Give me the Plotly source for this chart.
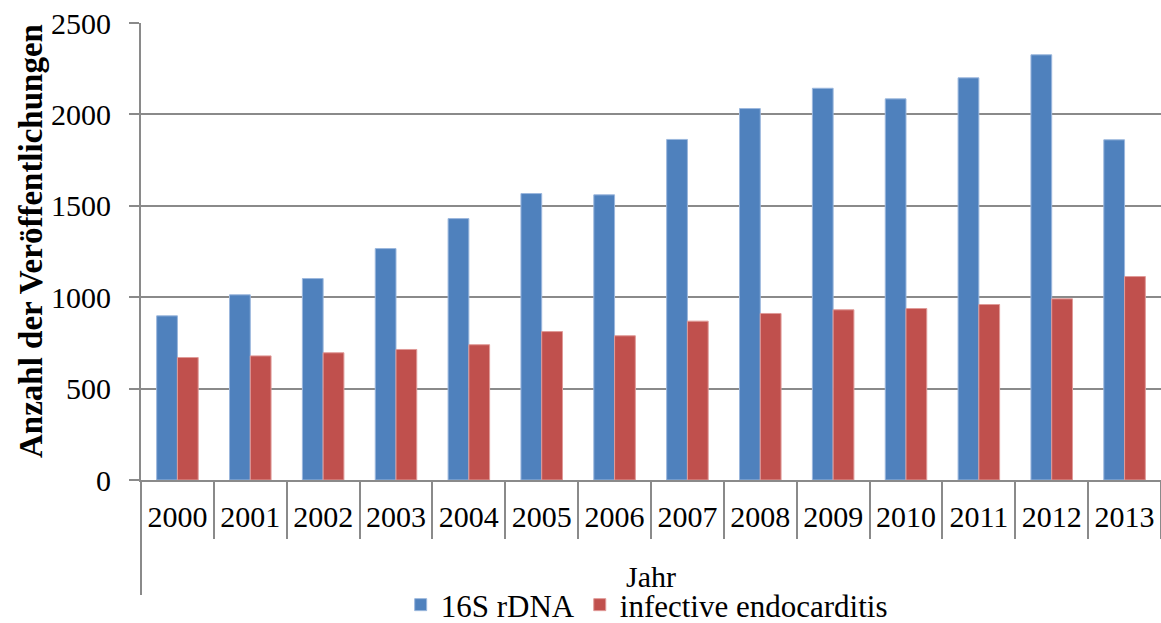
import plotly.graph_objects as go

years = ["2000", "2001", "2002", "2003", "2004", "2005", "2006",
         "2007", "2008", "2009", "2010", "2011", "2012", "2013"]
rdna16s = [898, 1013, 1102, 1266, 1430, 1567, 1560,
           1863, 2032, 2143, 2085, 2200, 2326, 1861]
endocarditis = [670, 679, 696, 714, 740, 812, 789,
                869, 911, 931, 938, 960, 991, 1113]
y_ticks = [0, 500, 1000, 1500, 2000, 2500]

FONT = "Liberation Serif, Times New Roman, serif"
GRID = "#8a8a8a"

fig = go.Figure()
fig.add_trace(go.Bar(name="16S rDNA", x=years, y=rdna16s,
                     marker=dict(color="#4F81BD", line=dict(color="#9bb7dd", width=1))))
fig.add_trace(go.Bar(name="infective endocarditis", x=years, y=endocarditis,
                     marker=dict(color="#C0504D", line=dict(color="#e09a98", width=1))))

fig.update_layout(
    width=1161, height=623,
    margin=dict(l=141, r=0, t=23, b=143),
    paper_bgcolor="white", plot_bgcolor="white",
    barmode="group", bargap=0.43, bargroupgap=0,
    font=dict(family=FONT, size=30, color="black"),
    showlegend=True,
    legend=dict(orientation="h", xref="container", yref="container",
                x=0.557, xanchor="center", y=(623 - 605) / 623, yanchor="middle",
                font=dict(family=FONT, size=31, color="black"),
                bgcolor="rgba(0,0,0,0)", itemwidth=30, tracegroupgap=0),
    xaxis=dict(type="category", showgrid=False, showline=True, linecolor=GRID, linewidth=2,
               ticks="outside", tickson="boundaries", ticklen=57, tickcolor=GRID, tickwidth=2,
               ticklabelstandoff=9,
               tickfont=dict(family=FONT, size=30, color="black")),
    yaxis=dict(range=[0, 2500], tickvals=y_ticks, showgrid=True, gridcolor=GRID, gridwidth=2,
               showline=True, linecolor=GRID, linewidth=2, ticks="outside", ticklen=10,
               tickcolor=GRID, tickwidth=2, zeroline=False, ticklabelstandoff=12,
               tickfont=dict(family=FONT, size=30, color="black")),
    shapes=[dict(type="line", xref="paper", yref="paper", x0=0, x1=0, y0=0, y1=-(595 - 480) / 457,
                 line=dict(color=GRID, width=2))],
    annotations=[
        dict(text="Jahr", xref="paper", yref="paper", x=0.5, y=(480 - 576) / 457,
             xanchor="center", yanchor="middle", showarrow=False,
             font=dict(family=FONT, size=30, color="black")),
        dict(text="<b>Anzahl der Veröffentlichungen</b>", xref="paper", yref="paper",
             x=(31 - 141) / 1020, y=(480 - 241) / 457, xanchor="center", yanchor="middle",
             textangle=-90, showarrow=False,
             font=dict(family=FONT, size=33, color="black")),
    ],
)

fig.write_html("out.html")
